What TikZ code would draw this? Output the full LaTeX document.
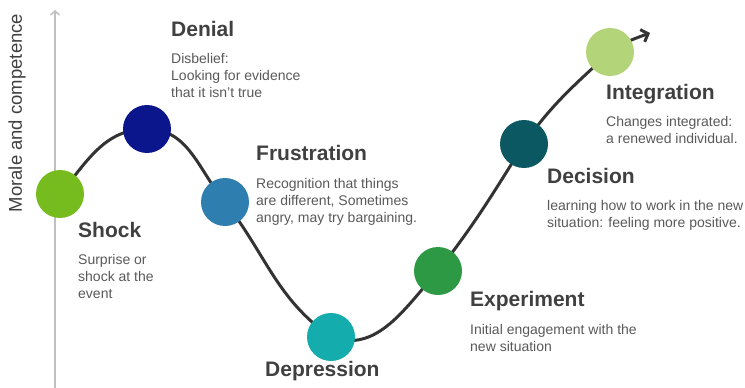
\documentclass[tikz,border=0pt]{standalone}
\usepackage{fontspec}
\setmainfont{Liberation Sans}
\usetikzlibrary{arrows.meta,backgrounds}

\definecolor{shockgreen}{HTML}{77BC1F}
\definecolor{denialblue}{HTML}{0C168C}
\definecolor{frustblue}{HTML}{2F7EB0}
\definecolor{deprteal}{HTML}{14ACAC}
\definecolor{expgreen}{HTML}{2E9944}
\definecolor{decteal}{HTML}{0B5863}
\definecolor{integgreen}{HTML}{B4D47A}
\definecolor{curvegray}{HTML}{333333}
\definecolor{axisgray}{HTML}{C0C0C0}
\definecolor{headgray}{HTML}{404040}
\definecolor{textgray}{HTML}{595959}

\tikzset{
	stage/.style={circle, minimum size=48pt, inner sep=0pt},
	stagetitle/.style={anchor=base west, inner sep=0pt, text=headgray, font=\fontsize{21}{25}\selectfont\bfseries},
	% base of a multi-line text is its last line
	stagetext/.style={anchor=base west, inner sep=0pt, align=left, text=textgray, font=\fontsize{14}{17}\selectfont},
}

\begin{document}
\begin{tikzpicture}[x=1pt, y=1pt]
	\useasboundingbox (0,0) rectangle (745,-388);
	% axis
	\coordinate (axisbot) at (55,-388);
	\coordinate (axistop) at (55,-10);
	\draw[axisgray, line width=1.5pt, -{Straight Barb[length=4pt,width=9pt]}] (axisbot) -- (axistop);
	\node[rotate=90, text=headgray, font=\fontsize{18.5}{22}\selectfont] (axislabel) at (17,-113) {Morale and competence};
	
	% stages on the curve
	\node[stage, fill=shockgreen] (shock) at (60,-194) {};
	\node[stage, fill=denialblue] (denial) at (147,-129) {};
	\node[stage, fill=frustblue] (frustration) at (225,-202) {};
	\node[stage, fill=deprteal] (depression) at (331,-337) {};
	\node[stage, fill=expgreen] (experiment) at (438,-271) {};
	\node[stage, fill=decteal] (decision) at (524,-144) {};
	\node[stage, fill=integgreen] (integration) at (610,-52) {};
	\coordinate (curveend) at (650,-33);
	
	\begin{scope}[on background layer]
	\draw[curvegray, line width=3pt, -{Straight Barb[length=6pt,width=13pt]}]
	(shock.center) to[out=50,in=180] (denial.center)
	to[out=0,in=130] (frustration.center)
	to[out=-52,in=145] (depression.center)
	to[out=-20,in=228] (experiment.center)
	to[out=52,in=238] (decision.center)
	to[out=55,in=223] (integration.center)
	to[out=35,in=200] (curveend);
	\end{scope}
	
	% labels
	\node[stagetitle] (shock-t) at (78,-237) {Shock};
	\node[stagetext] (shock-d) at (78,-298) {Surprise or\\shock at the\\event};
	\node[stagetitle] (denial-t) at (171,-36) {Denial};
	\node[stagetext] (denial-d) at (171,-97) {Disbelief:\\Looking for evidence\\that it isn't true};
	\node[stagetitle] (frustration-t) at (256,-160) {Frustration};
	\node[stagetext] (frustration-d) at (256,-222) {Recognition that things\\are different, Sometimes\\angry, may try bargaining.};
	\node[stagetitle] (depression-t) at (265,-376) {Depression};
	\node[stagetitle] (experiment-t) at (470,-306) {Experiment};
	\node[stagetext] (experiment-d) at (470,-351) {Initial engagement with the\\new situation};
	\node[stagetitle] (decision-t) at (547,-183) {Decision};
	\node[stagetext] (decision-d) at (547,-227) {learning how to work in the new\\situation: feeling more positive.};
	\node[stagetitle] (integration-t) at (606,-99) {Integration};
	\node[stagetext] (integration-d) at (606,-143) {Changes integrated:\\a renewed individual.};
\end{tikzpicture}
\end{document}
